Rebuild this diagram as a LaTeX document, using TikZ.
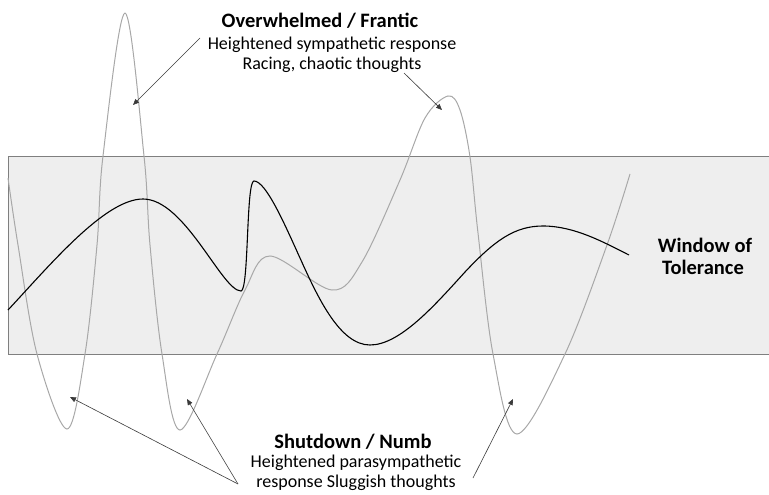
\documentclass[tikz,border=0pt]{standalone}
\usepackage{fontspec}
\setmainfont{Carlito}
\usepackage{xcolor}
\usetikzlibrary{arrows.meta}
\definecolor{wingray}{HTML}{EEEEEE}
\definecolor{winedge}{HTML}{7F7F7F}
\definecolor{wavegray}{HTML}{A8A8A8}
\definecolor{arrgray}{HTML}{3A3A3A}

\begin{document}
% picture drawn in image coordinates (y grows downwards)
\begin{tikzpicture}[x=1pt, y=-1pt,
    arr/.style={-{Triangle[length=6pt,width=5pt]}, arrgray, line width=0.6pt},
    txt/.style={anchor=base, inner sep=0pt, font=\fontsize{18}{20}\selectfont},
    ttl/.style={anchor=base, inner sep=0pt, font=\fontsize{20.5}{22}\selectfont\bfseries}]
  \useasboundingbox (0,0) rectangle (769,495);

  % Window of tolerance band
  \fill[wingray] (8,156) rectangle (769,354);
  \draw[winedge, line width=0.9pt] (769,156) -- (8,156) -- (8,354) -- (769,354);

  % Dysregulated (grey) trace
  \draw[wavegray, line width=1pt] plot[smooth, tension=0.55] coordinates {
    (8,178) (18,245) (37,354) (67,429) (85,354) (97,245) (103,156) (125,13)
    (144,156) (150,245) (162,354) (180,430) (217,354) (245,290) (270,256)
    (332,290) (362,262) (400,180) (425,118) (448,96)
    (460,110) (470,157) (478,233) (493,354) (517,434) (565,354) (607,245)
    (630,174)};

  % Regulated (black) trace
  \draw[black, line width=1.1pt] (8,310)
    .. controls (50,265) and (105,199) .. (143,199)   % first rise
    .. controls (185,199) and (222,291) .. (241,291)  % dip
    .. controls (249,291) and (246,181) .. (254,181)  % spike
    .. controls (266,181) and (285,225) .. (300,258)
    .. controls (318,298) and (340,345) .. (370,345)  % low point
    .. controls (400,345) and (435,305) .. (465,272)
    .. controls (495,240) and (515,226) .. (543,226)  % second rise
    .. controls (575,226) and (605,243) .. (629,255);

  % Labels
  \node[ttl] (overT) at (320,28) {Overwhelmed / Frantic};
  \node[txt] (overA) at (332,50) {Heightened sympathetic response};
  \node[txt] (overB) at (332,70) {Racing, chaotic thoughts};
  \node[ttl] (shutT) at (353,448) {Shutdown / Numb};
  \node[txt] (shutA) at (356,467) {Heightened parasympathetic};
  \node[txt] (shutB) at (356,487) {response Sluggish thoughts};
  \node[ttl] (winA) at (705,252) {Window of};
  \node[ttl] (winB) at (703,274) {Tolerance};

  % Arrow ends
  \coordinate (o1) at (200,38);
  \coordinate (o2) at (404,73);
  \coordinate (s1) at (238,484);
  \coordinate (s2) at (473,478);
  \coordinate (peakA) at (133,105);
  \coordinate (peakB) at (442,110);
  \coordinate (dipA) at (70,397);
  \coordinate (dipB) at (187,399);
  \coordinate (dipC) at (513,399);

  \draw[arr] (o1) -- (peakA);
  \draw[arr] (o2) -- (peakB);
  \draw[arr] (s1) -- (dipA);
  \draw[arr] (s1) -- (dipB);
  \draw[arr] (s2) -- (dipC);
\end{tikzpicture}
\end{document}
